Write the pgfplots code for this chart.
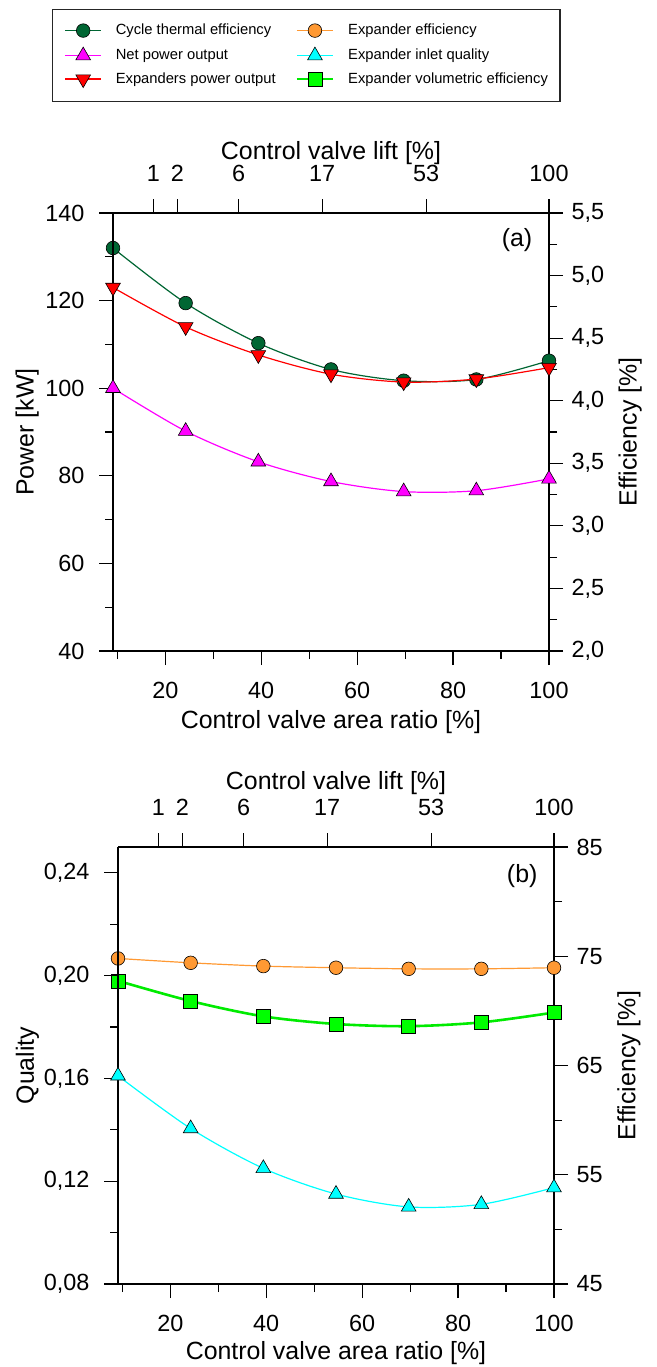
\documentclass[border=0pt]{standalone}
\usepackage{fontspec}
\setmainfont{Liberation Sans}
\usepackage{pgfplots}
\pgfplotsset{compat=1.18}
\definecolor{dgreen}{RGB}{0,102,51}
\definecolor{orng}{RGB}{255,153,51}
\definecolor{vgreen}{RGB}{0,255,0}
\definecolor{vgreenl}{RGB}{0,235,0}
\definecolor{mag}{RGB}{255,0,255}
\definecolor{cyn}{RGB}{0,255,255}
\definecolor{rd}{RGB}{255,0,0}
\pgfplotsset{
  base/.style={
    scale only axis, width=436bp, height=438bp,
    xmin=9.1, xmax=100,
    clip=false,
    tick align=outside,
    major tick length=14bp, minor tick length=8bp,
    tick style={black, line width=1.2bp},
    axis line style={-, line width=1.3bp},
    every outer x axis line/.append style={-},
    every outer y axis line/.append style={-},
    tick label style={font=\fontsize{23.5}{28}\selectfont},
    label style={font=\fontsize{25}{30}\selectfont},
    xticklabel shift=14bp,
    /pgf/number format/assume math mode=true,
    /pgf/number format/use comma,
    /pgf/number format/1000 sep={},
  },
  topax/.style={
    axis x line*=top, axis y line*=right,
    xtick={17.5,22.5,35.3,52.7,74.4,100}, xticklabels={1,2,6,17,53,100},
    minor xtick={},
    yticklabel shift=5bp,
    xlabel={Control valve lift [\%]},
    ylabel={Efficiency [\%]},
  },
  botax/.style={
    axis x line*=bottom, axis y line*=left,
    xtick={20,40,60,80,100}, minor xtick={10,30,50,70,90},
    yticklabel shift=11bp,
    xlabel={Control valve area ratio [\%]},
  },
}
\begin{document}
\begin{tikzpicture}
\useasboundingbox (0bp,0bp) rectangle (657bp,-1367bp);

% ---------------- Legend ----------------
\begin{axis}[at={(0bp,-1367bp)}, anchor=south west, scale only axis,
  width=657bp, height=1367bp, hide axis, xmin=0, xmax=1, ymin=0, ymax=1,
  legend columns=2,
  legend image code/.code={\draw[mark repeat=2,mark phase=2,#1] plot coordinates {(0bp,0bp) (18bp,0bp) (36bp,0bp)};},
  legend style={at={(0.07915,0.99342)}, anchor=north west,
    draw=black!85, line width=1.2bp,
    font=\fontsize{14.8}{17}\selectfont,
    inner xsep=12bp, inner ysep=14bp, row sep=9.5bp,
    nodes={inner sep=0pt, text height=11bp, text depth=3bp},
    /tikz/every odd column/.append style={column sep=14bp},
    /tikz/every even column/.append style={column sep=20bp},
  },
  legend cell align=left]
\addlegendimage{dgreen, line width=1.2bp, mark=*, mark size=6.8bp, mark options={fill=dgreen, draw=black, line width=0.6bp}}
\addlegendentry{Cycle thermal efficiency}
\addlegendimage{orng, line width=1.2bp, mark=*, mark size=6.8bp, mark options={fill=orng, draw=black, line width=0.6bp}}
\addlegendentry{Expander efficiency}
\addlegendimage{mag, line width=1.2bp, mark=triangle*, mark size=8.5bp, mark options={fill=mag, draw=black, line width=0.6bp}}
\addlegendentry{Net power output}
\addlegendimage{cyn, line width=1.2bp, mark=triangle*, mark size=8.5bp, mark options={fill=cyn, draw=black, line width=0.6bp}}
\addlegendentry{Expander inlet quality}
\addlegendimage{rd, line width=1.2bp, mark=triangle*, mark size=8.5bp, mark options={fill=rd, draw=black, line width=0.6bp, rotate=180}}
\addlegendentry{Expanders power output}
\addlegendimage{vgreenl, line width=2.6bp, mark=square*, mark size=7bp, mark options={fill=vgreen, draw=black, line width=0.6bp}}
\addlegendentry{Expander volumetric efficiency}
\end{axis}

% ---------------- Panel (a) ----------------
\begin{axis}[base, topax, at={(113bp,-651bp)}, anchor=south west,
  xlabel style={at={(axis description cs:0.5,1.137)}, anchor=center},
  ylabel style={at={(axis description cs:1.186,0.5)}, anchor=center},
  ymin=2, ymax=5.5, ytick={2,2.5,3,3.5,4,4.5,5,5.5},
  minor ytick={2.25,2.75,3.25,3.75,4.25,4.75,5.25},
  yticklabel style={/pgf/number format/fixed, /pgf/number format/fixed zerofill, /pgf/number format/precision=1}]
\addplot[dgreen, line width=1.2bp, smooth, mark=*, mark size=6.8bp, mark options={fill=dgreen, draw=black, line width=0.6bp}]
  coordinates {(9.1,5.22) (24.25,4.78) (39.4,4.46) (54.55,4.25) (69.7,4.16) (84.85,4.17) (100,4.32)};
\end{axis}
\begin{axis}[base, botax, at={(113bp,-651bp)}, anchor=south west,
  xlabel style={at={(axis description cs:0.5,-0.162)}, anchor=center},
  ylabel style={at={(axis description cs:-0.197,0.5)}, anchor=center},
  ymin=40, ymax=140, ytick={40,60,80,100,120,140}, minor ytick={50,70,90,110,130},
  ylabel={Power [kW]}]
\addplot[mag, line width=1.2bp, smooth, mark=triangle*, mark size=8.5bp, mark options={fill=mag, draw=black, line width=0.6bp}]
  coordinates {(9.1,100) (24.25,90.2) (39.4,83.2) (54.55,78.7) (69.7,76.4) (84.85,76.6) (100,79.3)};
\addplot[rd, line width=1.2bp, smooth, mark=triangle*, mark size=8.5bp, mark options={fill=rd, draw=black, line width=0.6bp, rotate=180}]
  coordinates {(9.1,123.0) (24.25,114.0) (39.4,107.6) (54.55,103.2) (69.7,101.4) (84.85,102.1) (100,104.7)};
\node[font=\fontsize{25}{30}\selectfont] at (axis description cs:0.9266,0.938) {(a)};
\end{axis}

% ---------------- Panel (b) ----------------
\begin{axis}[base, topax, at={(118bp,-1284bp)}, anchor=south west, height=437bp,
  xlabel style={at={(axis description cs:0.5,1.146)}, anchor=center},
  ylabel style={at={(axis description cs:1.172,0.5)}, anchor=center},
  ymin=45, ymax=85, ytick={45,55,65,75,85}, minor ytick={50,60,70,80}]
\addplot[orng, line width=1.2bp, smooth, mark=*, mark size=6.8bp, mark options={fill=orng, draw=black, line width=0.6bp}]
  coordinates {(9.1,74.8) (24.25,74.4) (39.4,74.1) (54.55,73.95) (69.7,73.85) (84.85,73.85) (100,73.95)};
\addplot[vgreenl, line width=2.6bp, smooth, mark=square*, mark size=7bp, mark options={fill=vgreen, draw=black, line width=0.6bp}]
  coordinates {(9.1,72.75) (24.25,70.9) (39.4,69.5) (54.55,68.8) (69.7,68.6) (84.85,68.95) (100,69.85)};
\end{axis}
\begin{axis}[base, botax, at={(118bp,-1284bp)}, anchor=south west, height=437bp,
  xlabel style={at={(axis description cs:0.5,-0.158)}, anchor=center},
  ylabel style={at={(axis description cs:-0.208,0.5)}, anchor=center},
  ymin=0.08, ymax=0.25, ytick={0.08,0.12,0.16,0.20,0.24}, minor ytick={0.10,0.14,0.18,0.22},
  yticklabel style={/pgf/number format/fixed, /pgf/number format/fixed zerofill, /pgf/number format/precision=2},
  ylabel={Quality}]
\addplot[cyn, line width=1.2bp, smooth, mark=triangle*, mark size=8.5bp, mark options={fill=cyn, draw=black, line width=0.6bp}]
  coordinates {(9.1,0.161) (24.25,0.1405) (39.4,0.125) (54.55,0.115) (69.7,0.110) (84.85,0.111) (100,0.1175)};
\node[font=\fontsize{25}{30}\selectfont] at (axis description cs:0.927,0.934) {(b)};
\end{axis}
\end{tikzpicture}
\end{document}
